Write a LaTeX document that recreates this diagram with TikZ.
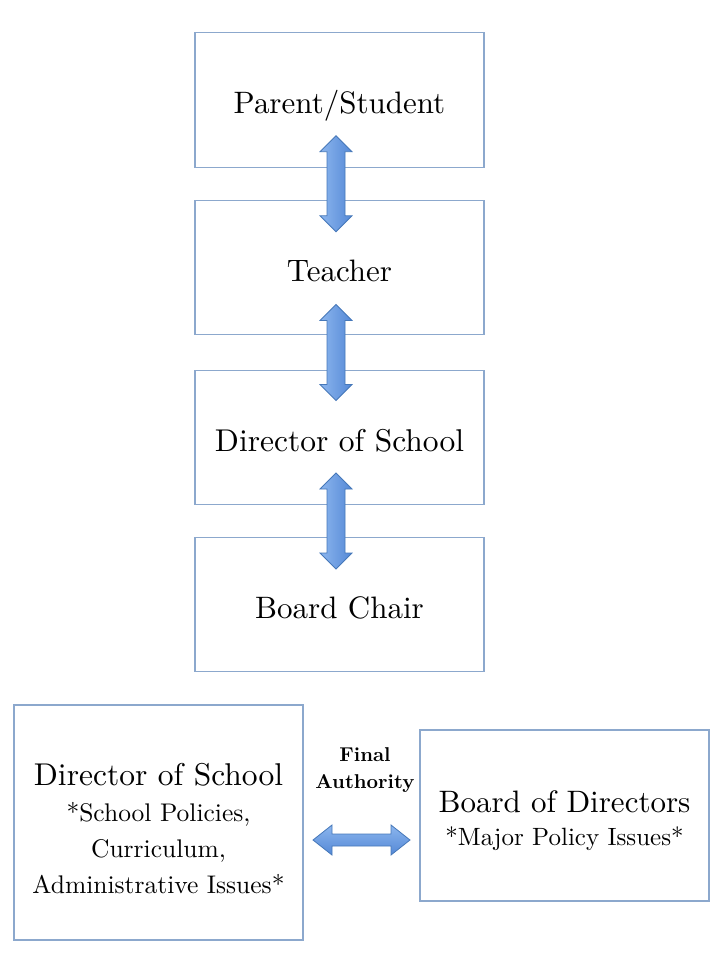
\documentclass[tikz,border=0pt]{standalone}
\usepackage{fontspec}
\setmainfont{lmroman10-regular}[Extension=.otf, BoldFont=lmroman10-bold, ItalicFont=lmroman10-italic]
\usetikzlibrary{calc}
\definecolor{boxline}{RGB}{140,168,205}
\definecolor{arrowdark}{RGB}{70,120,185}
\definecolor{arrowlight}{RGB}{140,182,238}
\definecolor{arrowmid}{RGB}{84,136,214}
\newcommand\subsz{\fontsize{25.5}{36}\selectfont}
\tikzset{
  box/.style={draw=boxline, line width=1.1pt, minimum width=289pt, inner sep=0pt, fill=white},
  single/.style={minimum height=134.5pt, text height=28pt, text depth=0pt, font=\fontsize{31}{36}\selectfont},
  vblock/.style={draw=arrowdark, line width=0.8pt, line join=miter, left color=arrowlight, right color=arrowmid},
  hblock/.style={draw=arrowdark, line width=0.8pt, line join=miter, top color=arrowlight, bottom color=arrowmid},
  boxtext/.style={anchor=north, inner sep=0pt, align=center, font=\fontsize{31.5}{36}\selectfont}
}
\newcommand\vdarrow[2]{%
  \coordinate (m) at ($(#1.south)!0.5!(#2.north)+(-3.5,0)$);
  \draw[vblock] let \p1=(m) in
    (\x1,\y1+48pt) -- (\x1+16pt,\y1+32pt) -- (\x1+9pt,\y1+32pt) -- (\x1+9pt,\y1-32pt)
    -- (\x1+16pt,\y1-32pt) -- (\x1,\y1-48pt) -- (\x1-16pt,\y1-32pt) -- (\x1-9pt,\y1-32pt)
    -- (\x1-9pt,\y1+32pt) -- (\x1-16pt,\y1+32pt) -- cycle;}
\begin{document}
\begin{tikzpicture}[x=1pt,y=-1pt]
\useasboundingbox (0,0) rectangle (720,960);

\node[box,single] (ps) at (339.5,100) {Parent/Student};
\node[box,single] (te) at (339.5,267.5) {Teacher};
\node[box,single,font=\fontsize{31.5}{36}\selectfont] (ds) at (339.5,437.5) {Director of School};
\node[box,single] (bc) at (339.5,604.5) {Board Chair};

\vdarrow{ps}{te}
\vdarrow{te}{ds}
\vdarrow{ds}{bc}

\node[box, minimum height=235pt] (dl) at (158.5,822.5) {};
\node[boxtext] (dltext) at ($(dl.north)+(0,59)$) {Director of School\\
  {\subsz *School Policies,}\\
  {\subsz Curriculum,}\\
  {\subsz Administrative Issues*}};

\node[box, minimum height=171pt] (dr) at (564.5,815.5) {};
\node[boxtext, font=\fontsize{31}{33}\selectfont] (drtext) at ($(dr.north)+(0,61)$) {Board of Directors\\
  {\fontsize{25}{33}\selectfont *Major Policy Issues*}};

\node[anchor=north, inner sep=0pt, align=center, font=\bfseries\fontsize{20}{27}\selectfont] (fa) at (365,747) {Final\\Authority};

\coordinate (hm) at ($(dl.east)!0.5!(dr.west)$);
\coordinate (hc) at (hm |- 0,840);
\draw[hblock] let \p1=(hc) in
  (\x1-48.5pt,\y1) -- (\x1-29.5pt,\y1+15pt) -- (\x1-29.5pt,\y1+6pt) -- (\x1+29.5pt,\y1+6pt)
  -- (\x1+29.5pt,\y1+15pt) -- (\x1+48.5pt,\y1) -- (\x1+29.5pt,\y1-15pt) -- (\x1+29.5pt,\y1-6pt)
  -- (\x1-29.5pt,\y1-6pt) -- (\x1-29.5pt,\y1-15pt) -- cycle;
\end{tikzpicture}
\end{document}
